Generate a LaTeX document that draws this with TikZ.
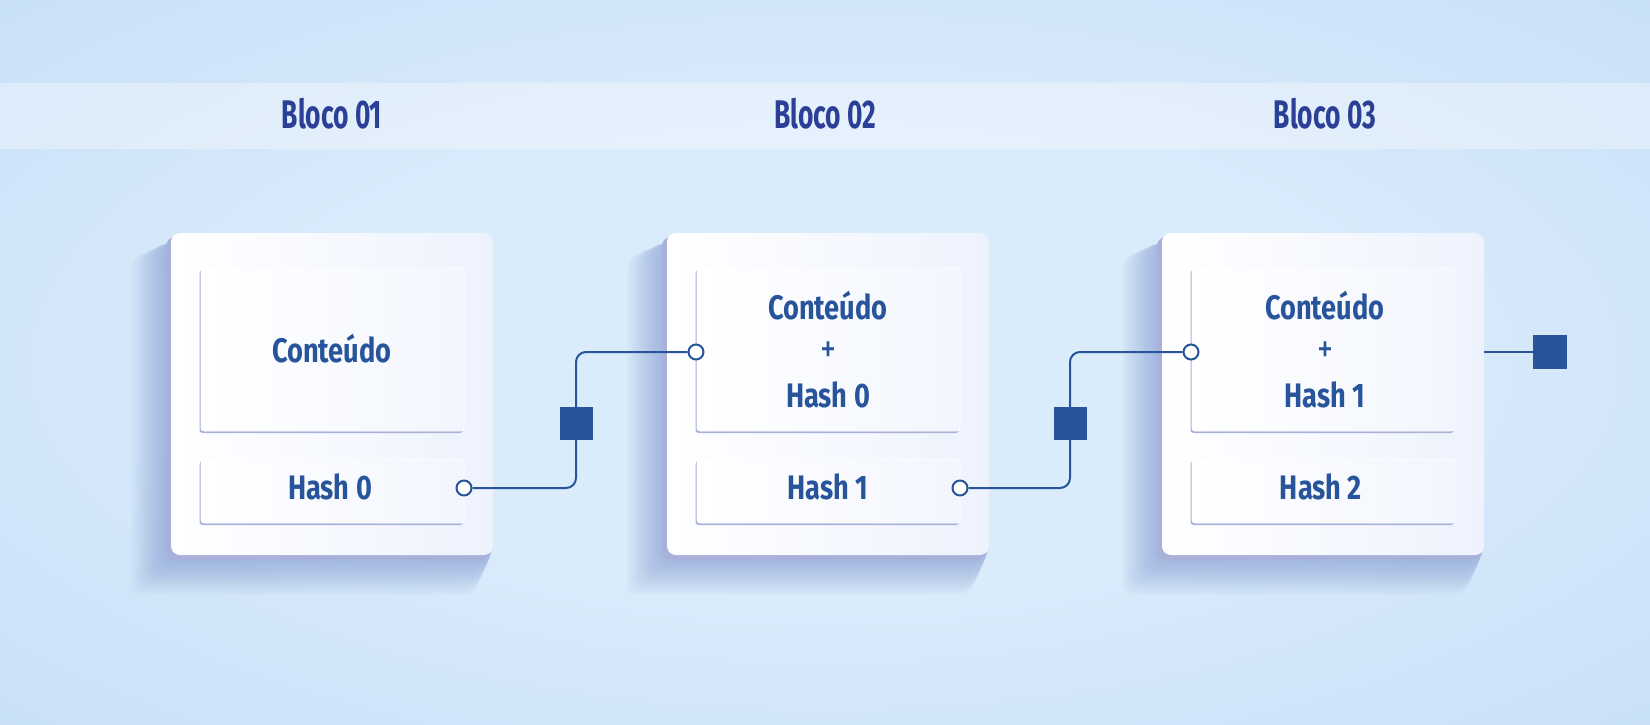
\documentclass[tikz,border=0pt]{standalone}
\usepackage{fontspec}
\newfontfamily\lblfont[FakeStretch=0.80]{Fira Sans}
\newfontfamily\ttlfont[FakeStretch=0.66]{Fira Sans}
\usetikzlibrary{calc}
\definecolor{bgout}{HTML}{B3D2F1}
\definecolor{bgmid}{HTML}{C8E0F7}
\definecolor{bgin}{HTML}{DAEBFB}
\definecolor{ink}{HTML}{27549A}
\definecolor{titleink}{HTML}{2B3F97}
\definecolor{lav}{HTML}{A7B1DA}
\definecolor{shad}{HTML}{6F86CC}
\definecolor{cardr}{HTML}{EDF2FD}
\pgfdeclareradialshading{bgshade}{\pgfpoint{0bp}{0bp}}{color(0bp)=(bgin); color(16bp)=(bgin); color(36bp)=(bgmid); color(58bp)=(bgout); color(80bp)=(bgout)}
\tikzset{
  card/.style={rounded corners=9pt, left color=white, right color=cardr, minimum width=322pt, minimum height=322pt, inner sep=0pt},
  innerbox/.style={rounded corners=3pt, left color=white, right color=cardr!70!white, draw=white, line width=0.8pt, inner sep=0pt},
  port/.style={circle, draw=ink, line width=2pt, fill=white, minimum size=15pt, inner sep=0pt},
  sqbox/.style={rectangle, fill=ink, minimum size=33pt, inner sep=0pt},
  conn/.style={draw=ink, line width=2pt},
  lbl/.style={text=ink, font=\lblfont\bfseries\fontsize{34}{36}\selectfont, inner sep=0pt, anchor=base},
  plus/.style={text=ink, font=\lblfont\fontsize{40}{42}\selectfont, inner sep=0pt},
  ttl/.style={text=titleink, font=\ttlfont\bfseries\fontsize{40}{44}\selectfont, inner sep=0pt, anchor=base},
}
\begin{document}
\begin{tikzpicture}[x=1pt,y=-1pt]
\useasboundingbox (0,0) rectangle (1650,724);
\shade[shading=bgshade] (0,0) rectangle (1650,724);
\fill[white, opacity=0.32] (0,83) rectangle (1650,149);
% titles
\node[ttl] (t1) at (332,128) {Bloco 01};
\node[ttl] (t2) at (825,128) {Bloco 02};
\node[ttl] (t3) at (1325,128) {Bloco 03};
% blocks
\foreach \i/\x in {1/171,2/667,3/1162}{
  \foreach \k in {1,...,20}{
    \pgfmathsetmacro{\d}{2*\k}
    \fill[shad, opacity=0.03, rounded corners=10pt]
      (\x,241) -- ({\x-\d},{243+0.4*\d}) -- ({\x-\d},{555+\d}) -- ({\x+322-0.5*\d},{555+\d}) -- ({\x+322},548) -- cycle;
  }
  \fill[lav, rounded corners=9pt] ({\x-5},237) rectangle ({\x+318},560);
  \node[card] (card\i) at ({\x+161},394) {};
  \fill[lav, rounded corners=3pt] ({\x+28.5},270) rectangle ({\x+292},433);
  \node[innerbox, minimum width=263pt, minimum height=163pt] (top\i) at ({\x+161.5},349.5) {};
  \fill[lav, rounded corners=3pt] ({\x+28.5},461) rectangle ({\x+292},525);
  \node[innerbox, minimum width=263pt, minimum height=64pt] (hb\i) at ({\x+161.5},491) {};
}
% texts
\node[lbl] (c1) at (332,362) {Conteúdo};
\node[lbl] (h0) at (330,499) {Hash 0};
\node[lbl] (c2) at (828,319) {Conteúdo};
\node[plus] (pl2) at (828,352) {+};
\node[lbl] (h0b) at (828,407) {Hash 0};
\node[lbl] (h1) at (828,499) {Hash 1};
\node[lbl] (c3) at (1325,319) {Conteúdo};
\node[plus] (pl3) at (1325,352) {+};
\node[lbl] (h1b) at (1325,407) {Hash 1};
\node[lbl] (h2) at (1321,499) {Hash 2};
% connectors
\coordinate (j1) at (576,423);
\coordinate (j2) at (1070,423);
\node[port] (p1) at (464,488) {};
\node[port] (p2) at (696,352) {};
\node[port] (p3) at (960,488) {};
\node[port] (p4) at (1191,352) {};
\draw[conn, rounded corners=10pt] (p1.east) -| (j1) |- (p2.west);
\draw[conn, rounded corners=10pt] (p3.east) -| (j2) |- (p4.west);
\node[sqbox] (sq1) at (j1) {};
\node[sqbox] (sq2) at (j2) {};
\node[sqbox, minimum size=34pt] (sq3) at (1550,352) {};
\draw[conn] (sq3.west) -- (sq3.west -| card3.east);
\end{tikzpicture}
\end{document}
